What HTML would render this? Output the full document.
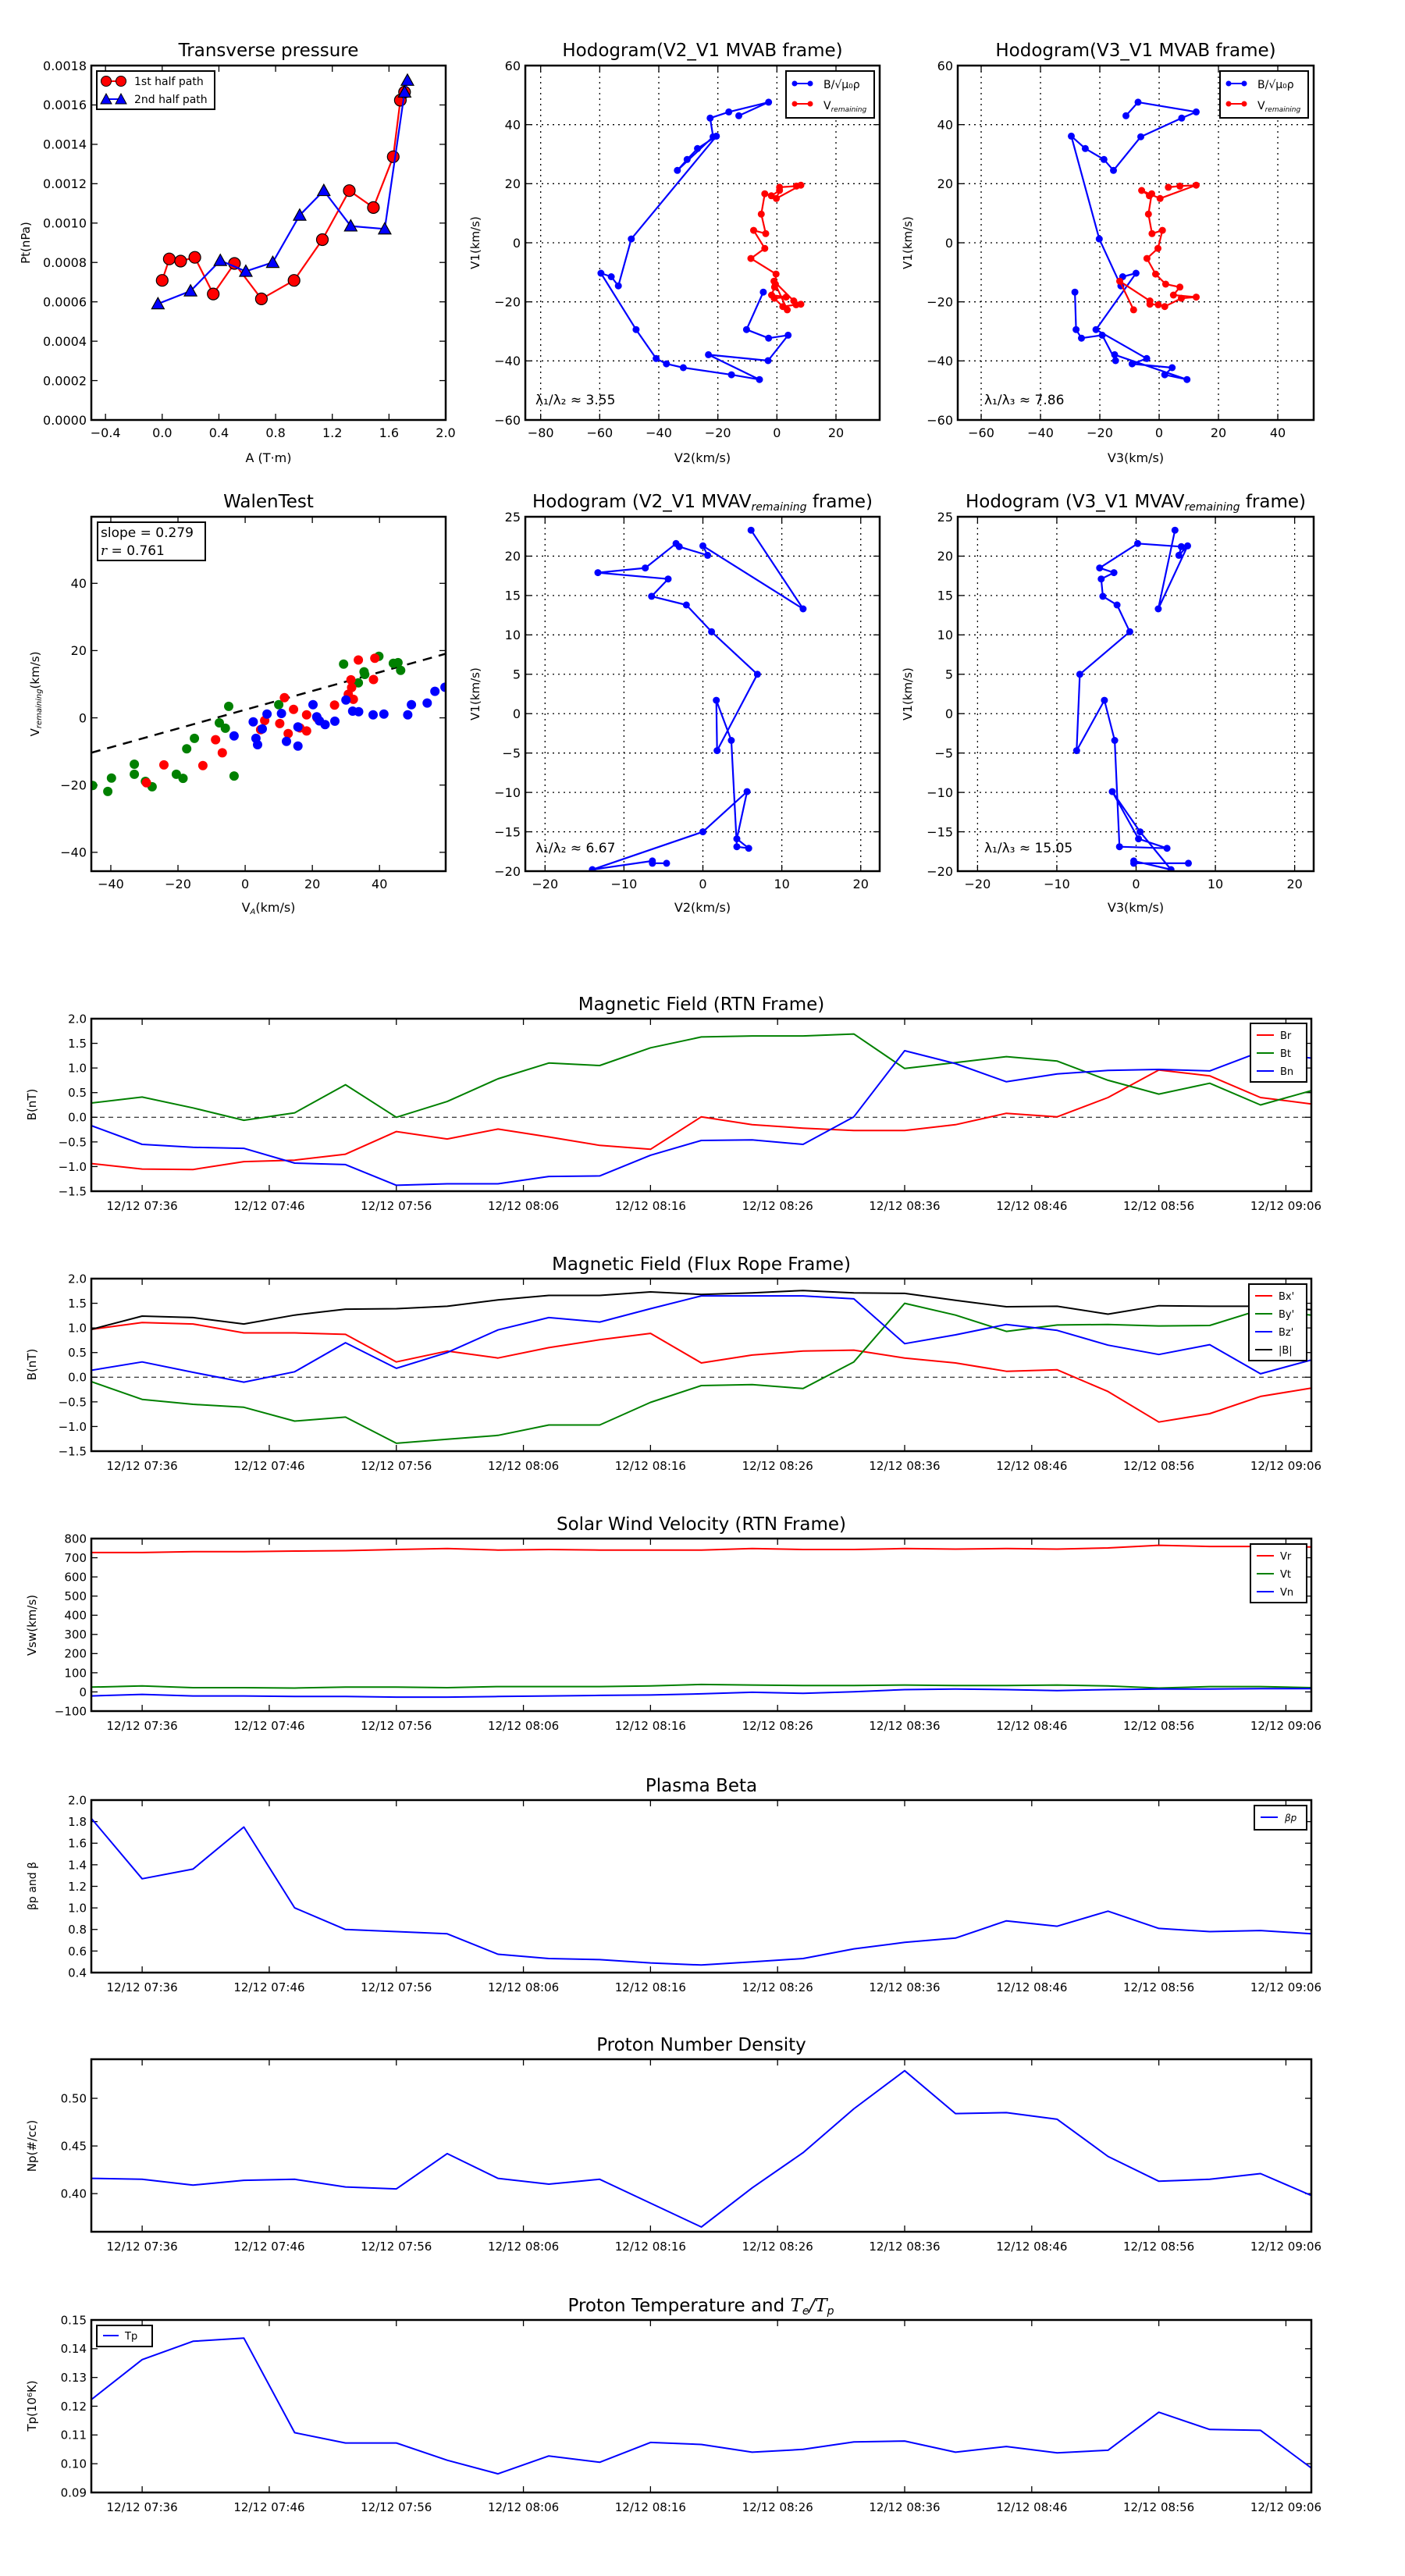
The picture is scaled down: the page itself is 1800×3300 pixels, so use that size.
<!DOCTYPE html>
<html><head><meta charset="utf-8"><title>Flux rope analysis</title>
<style>
html,body{margin:0;padding:0;background:#fff;}
svg{display:block;font-family:"DejaVu Sans","Liberation Sans",sans-serif;}
</style></head>
<body>
<svg id="fig" xmlns="http://www.w3.org/2000/svg" width="1800" height="3300" viewBox="0 0 1800 3300">
<rect x="0" y="0" width="1800" height="3300" fill="#fff"/>
</svg>
<script>
// ---------- DATA ----------
const ptA1 = [0.00,0.05,0.13,0.23,0.36,0.51,0.70,0.93,1.13,1.32,1.49,1.63,1.68,1.71];
const ptP1 = [0.000709,0.000818,0.000807,0.000826,0.000640,0.000795,0.000615,0.000709,0.000916,0.001165,0.001079,0.001337,0.001624,0.001665];
const ptA2 = [-0.03,0.20,0.41,0.59,0.78,0.97,1.14,1.33,1.57,1.71,1.73];
const ptP2 = [0.000590,0.000655,0.000810,0.000755,0.000800,0.001040,0.001165,0.000985,0.000970,0.001665,0.001725];
const hbV1 = [-16.7,-29.4,-32.3,-31.3,-39.9,-37.9,-46.3,-44.7,-42.3,-41.0,-39.2,-29.4,-10.3,-11.5,-14.6,1.3,36.1,31.9,28.2,24.5,35.9,42.2,44.3,47.6,43.0];
const hbV2 = [-4.6,-10.3,-2.8,3.8,-3.0,-23.2,-5.9,-15.4,-31.7,-37.4,-40.9,-47.7,-59.6,-56.1,-53.7,-49.3,-20.5,-26.9,-30.4,-33.7,-21.6,-22.6,-16.3,-2.8,-12.9];
const hbV3 = [-28.4,-28.0,-26.2,-19.2,-14.7,-15.0,9.4,1.9,4.4,-9.1,-4.2,-21.3,-7.8,-12.3,-12.9,-20.2,-29.6,-24.9,-18.6,-15.4,-6.2,7.6,12.5,-7.1,-11.2];
const hrV1 = [-22.7,-13.0,-19.7,-20.8,-21.0,-21.6,-18.8,-18.4,-17.7,-15.0,-14.0,-10.6,-5.3,-1.9,4.2,3.1,9.7,16.6,15.9,17.7,15.0,19.5,19.2,18.8];
const hrV2 = [3.5,-1.0,5.7,8.1,6.5,2.0,-0.9,3.1,-1.8,-0.8,-0.5,-0.3,-8.8,-4.1,-7.9,-3.8,-5.3,-4.1,-1.9,0.9,-0.2,8.1,6.6,0.9];
const hrV3 = [-8.6,-13.3,-3.1,-3.1,-0.3,1.9,7.5,12.5,4.8,7.0,2.2,-1.2,-4.1,-0.4,1.1,-2.4,-3.6,-2.5,-3.3,-5.9,0.3,12.5,7.0,3.1];
const hmV1 = [23.3,13.3,21.3,20.1,21.2,21.6,18.5,17.9,17.1,14.9,13.8,10.4,5.0,-4.7,1.7,-3.4,-16.9,-17.1,-15.9,-9.9,-15.0,-19.8,-18.7,-19.0,-19.0];
const hmV2 = [6.1,12.7,0.0,0.6,-3.0,-3.4,-7.3,-13.3,-4.4,-6.5,-2.1,1.1,6.9,1.8,1.7,3.6,4.3,5.8,4.3,5.6,0.0,-14.0,-6.4,-6.4,-4.6];
const hmV3 = [4.9,2.8,6.5,5.4,5.7,0.2,-4.6,-2.8,-4.4,-4.2,-2.4,-0.8,-7.1,-7.5,-4.0,-2.7,-2.1,3.9,0.3,-3.0,0.5,4.4,-0.3,-0.3,6.6];
const wGx = [-45.4,-40.9,-39.8,-33.0,-33.0,-29.7,-27.7,-20.5,-18.5,-17.4,-15.1,-7.7,-5.9,-4.9,-3.3,10.0,29.3,33.7,35.4,35.6,39.8,44.1,45.5,46.3];
const wGy = [-20.1,-21.9,-17.9,-13.8,-16.8,-18.9,-20.5,-16.8,-18.0,-9.2,-6.1,-1.5,-3.1,3.4,-17.3,3.9,16.0,10.4,13.7,12.9,18.3,16.2,16.4,14.1];
const wRx = [-29.4,-24.2,-12.6,-8.8,-6.8,4.6,5.8,10.3,11.7,12.8,14.4,16.3,18.3,18.3,21.4,26.6,30.7,31.5,31.7,32.2,33.7,38.2,38.6];
const wRy = [-19.3,-14.0,-14.2,-6.5,-10.4,-3.5,-0.8,-1.7,6.0,-4.7,2.5,-3.0,0.9,-3.9,0.0,3.8,7.0,11.3,9.0,5.5,17.2,11.4,17.7];
const wBx = [-3.3,2.4,3.2,3.7,5.1,6.5,10.8,12.3,15.7,15.7,20.2,21.3,22.1,23.8,26.7,30.0,32.0,33.8,38.1,41.3,48.4,49.5,54.2,56.5,59.5];
const wBy = [-5.4,-1.2,-6.1,-8.0,-3.3,1.1,1.3,-7.0,-2.7,-8.4,3.9,0.3,-0.9,-2.0,-1.0,5.3,2.0,1.8,0.9,1.1,0.9,3.9,4.4,7.9,9.1];
const walenSlope = 0.279;
const walenIntercept = 2.4;
const times = ["07:32","07:36","07:40","07:44","07:48","07:52","07:56","08:00","08:04","08:08","08:12","08:16","08:20","08:24","08:28","08:32","08:36","08:40","08:44","08:48","08:52","08:56","09:00","09:04","09:08"];
const timeTicks = ["07:36","07:46","07:56","08:06","08:16","08:26","08:36","08:46","08:56","09:06"];
const Br = [-0.94,-1.05,-1.06,-0.90,-0.87,-0.75,-0.29,-0.44,-0.24,-0.40,-0.57,-0.65,0.01,-0.15,-0.22,-0.27,-0.27,-0.15,0.08,0.01,0.40,0.96,0.84,0.40,0.27];
const Bt = [0.29,0.41,0.19,-0.06,0.09,0.66,0.00,0.32,0.78,1.10,1.05,1.41,1.63,1.65,1.65,1.69,0.99,1.11,1.23,1.14,0.75,0.47,0.69,0.25,0.54];
const Bn = [-0.17,-0.55,-0.61,-0.63,-0.93,-0.96,-1.38,-1.35,-1.35,-1.20,-1.19,-0.77,-0.47,-0.46,-0.55,0.01,1.35,1.09,0.72,0.88,0.95,0.97,0.94,1.33,1.20];
const Bx = [0.97,1.11,1.08,0.90,0.90,0.87,0.31,0.53,0.39,0.60,0.76,0.89,0.29,0.45,0.53,0.55,0.39,0.29,0.12,0.15,-0.29,-0.91,-0.74,-0.39,-0.22];
const By = [-0.09,-0.45,-0.55,-0.61,-0.89,-0.81,-1.34,-1.26,-1.18,-0.97,-0.97,-0.51,-0.17,-0.15,-0.23,0.31,1.50,1.26,0.93,1.06,1.07,1.04,1.05,1.37,1.26];
const Bz = [0.14,0.31,0.10,-0.10,0.11,0.70,0.18,0.50,0.96,1.21,1.12,1.39,1.65,1.65,1.65,1.59,0.68,0.86,1.07,0.95,0.65,0.46,0.66,0.07,0.35];
const Bmag = [0.97,1.24,1.21,1.08,1.26,1.38,1.39,1.44,1.57,1.66,1.66,1.73,1.68,1.71,1.76,1.71,1.70,1.56,1.43,1.44,1.28,1.45,1.44,1.44,1.37];
const Vr = [727,727,732,732,735,737,743,748,740,743,740,740,740,748,743,743,748,745,748,745,751,765,759,759,756];
const Vt = [25,31,22,22,20,25,25,22,28,28,28,31,39,36,33,33,36,33,33,36,31,20,28,28,22];
const Vn = [-21,-13,-21,-21,-24,-24,-27,-27,-24,-21,-18,-16,-10,-2,-7,1,12,15,12,7,12,15,15,17,17];
const betaP = [1.83,1.27,1.36,1.75,1.00,0.80,0.78,0.76,0.57,0.53,0.52,0.49,0.47,0.50,0.53,0.62,0.68,0.72,0.88,0.83,0.97,0.81,0.78,0.79,0.76];
const Np = [0.416,0.415,0.409,0.414,0.415,0.407,0.405,0.442,0.416,0.410,0.415,0.390,0.365,0.406,0.443,0.489,0.529,0.484,0.485,0.478,0.439,0.413,0.415,0.421,0.398];
const Tp = [0.1223,0.1362,0.1426,0.1437,0.1108,0.1072,0.1072,0.1012,0.0965,0.1027,0.1005,0.1074,0.1067,0.1040,0.1050,0.1076,0.1079,0.1040,0.1060,0.1038,0.1047,0.1179,0.1119,0.1116,0.0985];

// ---------- HELPERS ----------
const NS = "http://www.w3.org/2000/svg";
const svg = document.getElementById('fig');
const MINUS = "\u2212";
function mk(parent, tag, attrs, name, inter) {
  const el = document.createElementNS(NS, tag);
  for (const k in attrs) el.setAttribute(k, attrs[k]);
  
  
  parent.appendChild(el);
  return el;
}
function txt(parent, x, y, s, size, anchor, name, extra) {
  const a = {x: x, y: y, 'font-size': size, 'text-anchor': anchor || 'middle', fill: '#000'};
  if (extra) for (const k in extra) a[k] = extra[k];
  const t = mk(parent, 'text', a, name, false);
  t.textContent = s;
  return t;
}
function fmt(v, d) { const s = Math.abs(v).toFixed(d); return (v < -1e-12 ? MINUS : "") + s; }
let clipId = 0;
function axes(c) {
  const g = mk(svg, 'g', {}, c.name, false);
  const sx = v => c.x0 + (v - c.xmin) / (c.xmax - c.xmin) * (c.x1 - c.x0);
  const sy = v => c.y1 - (v - c.ymin) / (c.ymax - c.ymin) * (c.y1 - c.y0);
  const fs = c.fs || 16;
  const grid = mk(g, 'g', {}, 'grid', false);
  const ticks = mk(g, 'g', {}, 'ticks', false);
  c.xticks.forEach((v, i) => {
    const x = sx(v);
    if (c.grid) mk(grid, 'line', {x1: x, x2: x, y1: c.y0, y2: c.y1, stroke: '#000', 'stroke-width': 1.3, 'stroke-dasharray': '2,5'}, 'x-grid-line', false);
    mk(ticks, 'line', {x1: x, x2: x, y1: c.y1, y2: c.y1 - 8, stroke: '#000', 'stroke-width': 1.3}, 'x-tick', false);
    mk(ticks, 'line', {x1: x, x2: x, y1: c.y0, y2: c.y0 + 8, stroke: '#000', 'stroke-width': 1.3}, 'x-tick', false);
    txt(ticks, x, c.y1 + (c.xlabOff || 22), c.xtickLabels[i], fs, 'middle', 'x-tick-label');
  });
  c.yticks.forEach((v, i) => {
    const y = sy(v);
    if (c.grid) mk(grid, 'line', {x1: c.x0, x2: c.x1, y1: y, y2: y, stroke: '#000', 'stroke-width': 1.3, 'stroke-dasharray': '2,5'}, 'y-grid-line', false);
    mk(ticks, 'line', {x1: c.x0, x2: c.x0 + 8, y1: y, y2: y, stroke: '#000', 'stroke-width': 1.3}, 'y-tick', false);
    mk(ticks, 'line', {x1: c.x1, x2: c.x1 - 8, y1: y, y2: y, stroke: '#000', 'stroke-width': 1.3}, 'y-tick', false);
    txt(ticks, c.x0 - 6, y + fs * 0.36, c.ytickLabels[i], fs, 'end', 'y-tick-label');
  });
  clipId++;
  const cp = mk(g, 'clipPath', {id: 'cp' + clipId}, 'clip-region', false);
  mk(cp, 'rect', {x: c.x0, y: c.y0, width: c.x1 - c.x0, height: c.y1 - c.y0}, 'clip-rect', false);
  const plot = mk(g, 'g', {'clip-path': 'url(#cp' + clipId + ')'}, 'plot-area', false);
  mk(g, 'rect', {x: c.x0, y: c.y0, width: c.x1 - c.x0, height: c.y1 - c.y0, fill: 'none', stroke: '#000', 'stroke-width': 2.5}, 'axes-frame', false);
  if (c.title) txt(g, (c.x0 + c.x1) / 2, c.y0 - (c.titleOff || 12), c.title, c.titleFs || 23, 'middle', 'chart-title');
  return {g: g, plot: plot, sx: sx, sy: sy, c: c};
}
function linePath(ax, xs, ys, color, w, name) {
  let d = '';
  for (let i = 0; i < xs.length; i++) d += (i ? 'L' : 'M') + ax.sx(xs[i]).toFixed(1) + ' ' + ax.sy(ys[i]).toFixed(1);
  return mk(ax.plot, 'path', {d: d, fill: 'none', stroke: color, 'stroke-width': w, 'stroke-linejoin': 'round'}, name, false);
}
function dots(ax, xs, ys, color, r, name, stroke) {
  const g = mk(ax.plot, 'g', {}, name + '-markers', false);
  for (let i = 0; i < xs.length; i++) {
    mk(g, 'circle', {cx: ax.sx(xs[i]).toFixed(1), cy: ax.sy(ys[i]).toFixed(1), r: r, fill: color, stroke: stroke || 'none', 'stroke-width': 1.2}, name + '-point', false);
  }
}
function tris(ax, xs, ys, color, s, name) {
  const g = mk(ax.plot, 'g', {}, name + '-markers', false);
  for (let i = 0; i < xs.length; i++) {
    const x = ax.sx(xs[i]), y = ax.sy(ys[i]);
    mk(g, 'polygon', {points: `${x},${y - s} ${x - s},${y + s * 0.8} ${x + s},${y + s * 0.8}`, fill: color, stroke: '#000', 'stroke-width': 1.2}, name + '-point', false);
  }
}
function ylabel(x, y, s, size, name) {
  return txt(svg, x, y, s, size, 'middle', name, {transform: `rotate(-90 ${x} ${y})`});
}
function range(a, b, st) { const r = []; for (let v = a; v <= b + st * 1e-6; v += st) r.push(+v.toFixed(6)); return r; }

const colA = [117, 571], colB = [673, 1127], colC = [1227, 1683];
const rowT = [84, 538], rowM = [662, 1116];

// ---------- Transverse pressure ----------
{
  const xt = range(-0.4, 2.0, 0.4), yt = range(0, 0.0018, 0.0002);
  const ax = axes({name: 'transverse-pressure-chart', x0: colA[0], x1: colA[1], y0: rowT[0], y1: rowT[1], xmin: -0.5, xmax: 2.0, ymin: 0, ymax: 0.0018,
    xticks: xt, xtickLabels: xt.map(v => fmt(v, 1)), yticks: yt, ytickLabels: yt.map(v => fmt(v, 4)), title: 'Transverse pressure'});
  linePath(ax, ptA1, ptP1, '#f00', 2.2, 'first-half-path-line');
  dots(ax, ptA1, ptP1, '#f00', 7.5, 'first-half-path', '#000');
  linePath(ax, ptA2, ptP2, '#00f', 2.2, 'second-half-path-line');
  tris(ax, ptA2, ptP2, '#00f', 8, 'second-half-path');
  const lg = mk(svg, 'g', {}, 'legend', false);
  mk(lg, 'rect', {x: 124, y: 91, width: 151, height: 49, fill: '#fff', stroke: '#000', 'stroke-width': 2}, 'legend-box', false);
  mk(lg, 'line', {x1: 136, x2: 155, y1: 104, y2: 104, stroke: '#f00', 'stroke-width': 2}, 'legend-line-first', false);
  mk(lg, 'circle', {cx: 136, cy: 104, r: 6.5, fill: '#f00', stroke: '#000'}, 'legend-marker-first', false);
  mk(lg, 'circle', {cx: 155, cy: 104, r: 6.5, fill: '#f00', stroke: '#000'}, 'legend-marker-first', false);
  txt(lg, 172, 109, '1st half path', 14, 'start', 'legend-label-first');
  mk(lg, 'line', {x1: 136, x2: 155, y1: 127, y2: 127, stroke: '#00f', 'stroke-width': 2}, 'legend-line-second', false);
  mk(lg, 'polygon', {points: '136,120 129,133 143,133', fill: '#00f', stroke: '#000'}, 'legend-marker-second', false);
  mk(lg, 'polygon', {points: '155,120 148,133 162,133', fill: '#00f', stroke: '#000'}, 'legend-marker-second', false);
  txt(lg, 172, 132, '2nd half path', 14, 'start', 'legend-label-second');
  txt(svg, 344, 592, 'A (T·m)', 16, 'middle', 'x-axis-title');
  ylabel(38, 311, 'Pt(nPa)', 15, 'y-axis-title');
}

function hodoLegend(x, y) {
  const lg = mk(svg, 'g', {}, 'legend', false);
  mk(lg, 'rect', {x: x, y: y, width: 113, height: 60, fill: '#fff', stroke: '#000', 'stroke-width': 2}, 'legend-box', false);
  mk(lg, 'line', {x1: x + 11, x2: x + 31, y1: y + 16, y2: y + 16, stroke: '#00f', 'stroke-width': 2}, 'legend-line-b', false);
  mk(lg, 'circle', {cx: x + 11, cy: y + 16, r: 3.5, fill: '#00f'}, 'legend-marker-b', false);
  mk(lg, 'circle', {cx: x + 31, cy: y + 16, r: 3.5, fill: '#00f'}, 'legend-marker-b', false);
  txt(lg, x + 48, y + 22, 'B/√μ₀ρ', 14, 'start', 'legend-label-b');
  mk(lg, 'line', {x1: x + 11, x2: x + 31, y1: y + 42, y2: y + 42, stroke: '#f00', 'stroke-width': 2}, 'legend-line-v', false);
  mk(lg, 'circle', {cx: x + 11, cy: y + 42, r: 3.5, fill: '#f00'}, 'legend-marker-v', false);
  mk(lg, 'circle', {cx: x + 31, cy: y + 42, r: 3.5, fill: '#f00'}, 'legend-marker-v', false);
  const t = txt(lg, x + 48, y + 49, 'V', 14, 'start', 'legend-label-v');
  const s = mk(t, 'tspan', {'font-size': 9, 'font-style': 'italic', dy: 3}, 'subscript', false);
  s.textContent = 'remaining';
}

// ---------- MVAB hodograms ----------
{
  const xt = range(-80, 20, 20), yt = range(-60, 60, 20);
  const ax = axes({name: 'hodogram-v2-v1-mvab', x0: colB[0], x1: colB[1], y0: rowT[0], y1: rowT[1], xmin: -85.2, xmax: 34.8, ymin: -60, ymax: 60,
    xticks: xt, xtickLabels: xt.map(v => fmt(v, 0)), yticks: yt, ytickLabels: yt.map(v => fmt(v, 0)), grid: true, title: 'Hodogram(V2_V1 MVAB frame)'});
  linePath(ax, hbV2, hbV1, '#00f', 2.2, 'b-series-line');
  dots(ax, hbV2, hbV1, '#00f', 4.5, 'b-series');
  linePath(ax, hrV2, hrV1, '#f00', 2.2, 'v-remaining-line');
  dots(ax, hrV2, hrV1, '#f00', 4.5, 'v-remaining');
  hodoLegend(1007, 91);
  txt(svg, 686, 518, 'λ₁/λ₂ ≈ 3.55', 17, 'start', 'eigenvalue-ratio-label');
  txt(svg, 900, 592, 'V2(km/s)', 16, 'middle', 'x-axis-title');
  ylabel(614, 311, 'V1(km/s)', 15, 'y-axis-title');
}
{
  const xt = range(-60, 40, 20), yt = range(-60, 60, 20);
  const ax = axes({name: 'hodogram-v3-v1-mvab', x0: colC[0], x1: colC[1], y0: rowT[0], y1: rowT[1], xmin: -67.9, xmax: 52.1, ymin: -60, ymax: 60,
    xticks: xt, xtickLabels: xt.map(v => fmt(v, 0)), yticks: yt, ytickLabels: yt.map(v => fmt(v, 0)), grid: true, title: 'Hodogram(V3_V1 MVAB frame)'});
  linePath(ax, hbV3, hbV1, '#00f', 2.2, 'b-series-line');
  dots(ax, hbV3, hbV1, '#00f', 4.5, 'b-series');
  linePath(ax, hrV3, hrV1, '#f00', 2.2, 'v-remaining-line');
  dots(ax, hrV3, hrV1, '#f00', 4.5, 'v-remaining');
  hodoLegend(1563, 91);
  txt(svg, 1261, 518, 'λ₁/λ₃ ≈ 7.86', 17, 'start', 'eigenvalue-ratio-label');
  txt(svg, 1455, 592, 'V3(km/s)', 16, 'middle', 'x-axis-title');
  ylabel(1168, 311, 'V1(km/s)', 15, 'y-axis-title');
}

// ---------- Walen test ----------
{
  const xt = range(-40, 40, 20), yt = range(-40, 40, 20);
  const ax = axes({name: 'walen-test-chart', x0: colA[0], x1: colA[1], y0: rowM[0], y1: rowM[1], xmin: -45.8, xmax: 59.7, ymin: -45.6, ymax: 59.8,
    xticks: xt, xtickLabels: xt.map(v => fmt(v, 0)), yticks: yt, ytickLabels: yt.map(v => fmt(v, 0)), title: 'WalenTest'});
  const fx = [-45.8, 59.7];
  const fy = fx.map(v => walenIntercept + walenSlope * v);
  linePath(ax, fx, fy, '#000', 2.5, 'fit-line').setAttribute('stroke-dasharray', '12,9');
  dots(ax, wGx, wGy, '#008000', 6, 'walen-green');
  dots(ax, wRx, wRy, '#f00', 6, 'walen-red');
  dots(ax, wBx, wBy, '#00f', 6, 'walen-blue');
  const lg = mk(svg, 'g', {}, 'fit-stats-box', false);
  mk(lg, 'rect', {x: 125, y: 669, width: 138, height: 49, fill: '#fff', stroke: '#000', 'stroke-width': 2}, 'stats-box-frame', false);
  txt(lg, 129, 688, 'slope = 0.279', 17, 'start', 'slope-label');
  const r = txt(lg, 129, 711, '', 17, 'start', 'r-label');
  const ri = mk(r, 'tspan', {'font-style': 'italic', 'font-family': 'DejaVu Serif, serif'}, 'r-symbol', false);
  ri.textContent = 'r';
  const rv = mk(r, 'tspan', {}, 'r-value', false);
  rv.textContent = ' = 0.761';
  const xl = txt(svg, 344, 1168, 'V', 16, 'middle', 'x-axis-title');
  const xs = mk(xl, 'tspan', {'font-size': 10, dy: 3, 'font-style': 'italic'}, 'subscript', false);
  xs.textContent = 'A';
  const xs2 = mk(xl, 'tspan', {dy: -3}, 'unit', false);
  xs2.textContent = '(km/s)';
  const yl = ylabel(50, 889, 'V', 15, 'y-axis-title');
  const ys = mk(yl, 'tspan', {'font-size': 10, dy: 3, 'font-style': 'italic'}, 'subscript', false);
  ys.textContent = 'remaining';
  const ys2 = mk(yl, 'tspan', {dy: -3}, 'unit', false);
  ys2.textContent = '(km/s)';
}

function mvavTitle(x, y, s) {
  const t = txt(svg, x, y, s, 23, 'middle', 'chart-title');
  const sub = mk(t, 'tspan', {'font-size': 14, 'font-style': 'italic', dy: 4}, 'subscript', false);
  sub.textContent = 'remaining';
  const rest = mk(t, 'tspan', {dy: -4}, 'title-end', false);
  rest.textContent = ' frame)';
}
// ---------- MVAV hodograms ----------
{
  const xt = range(-20, 20, 10), yt = range(-20, 25, 5);
  const ax = axes({name: 'hodogram-v2-v1-mvav', x0: colB[0], x1: colB[1], y0: rowM[0], y1: rowM[1], xmin: -22.5, xmax: 22.4, ymin: -20, ymax: 25,
    xticks: xt, xtickLabels: xt.map(v => fmt(v, 0)), yticks: yt, ytickLabels: yt.map(v => fmt(v, 0)), grid: true});
  linePath(ax, hmV2, hmV1, '#00f', 2.2, 'b-series-line');
  dots(ax, hmV2, hmV1, '#00f', 4.5, 'b-series');
  mvavTitle(900, 650, 'Hodogram (V2_V1 MVAV');
  txt(svg, 686, 1092, 'λ₁/λ₂ ≈ 6.67', 17, 'start', 'eigenvalue-ratio-label');
  txt(svg, 900, 1168, 'V2(km/s)', 16, 'middle', 'x-axis-title');
  ylabel(614, 889, 'V1(km/s)', 15, 'y-axis-title');
}
{
  const xt = range(-20, 20, 10), yt = range(-20, 25, 5);
  const ax = axes({name: 'hodogram-v3-v1-mvav', x0: colC[0], x1: colC[1], y0: rowM[0], y1: rowM[1], xmin: -22.5, xmax: 22.4, ymin: -20, ymax: 25,
    xticks: xt, xtickLabels: xt.map(v => fmt(v, 0)), yticks: yt, ytickLabels: yt.map(v => fmt(v, 0)), grid: true});
  linePath(ax, hmV3, hmV1, '#00f', 2.2, 'b-series-line');
  dots(ax, hmV3, hmV1, '#00f', 4.5, 'b-series');
  mvavTitle(1455, 650, 'Hodogram (V3_V1 MVAV');
  txt(svg, 1261, 1092, 'λ₁/λ₃ ≈ 15.05', 17, 'start', 'eigenvalue-ratio-label');
  txt(svg, 1455, 1168, 'V3(km/s)', 16, 'middle', 'x-axis-title');
  ylabel(1168, 889, 'V1(km/s)', 15, 'y-axis-title');
}

// ---------- TIME SERIES ----------
function tmin(s) { const p = s.split(':'); return (+p[0]) * 60 + (+p[1]) - (7 * 60 + 32); }
const tX = times.map(tmin);
const tickX = timeTicks.map(tmin);
function tsAxes(name, y0, ymin, ymax, yt, ylabs, title) {
  return axes({name: name, x0: 117, x1: 1680, y0: y0, y1: y0 + 221, xmin: 0, xmax: 96, ymin: ymin, ymax: ymax,
    xticks: tickX, xtickLabels: timeTicks.map(s => '12/12 ' + s), yticks: yt, ytickLabels: ylabs, fs: 15, xlabOff: 24, title: title, titleFs: 23, titleOff: 11});
}
function tsLegend(x, y, w, entries) {
  const lg = mk(svg, 'g', {}, 'legend', false);
  const h = entries.length * 23 + 6;
  mk(lg, 'rect', {x: x, y: y, width: w, height: h, fill: '#fff', stroke: '#000', 'stroke-width': 2}, 'legend-box', false);
  entries.forEach((e, i) => {
    const yy = y + 15 + i * 23;
    mk(lg, 'line', {x1: x + 8, x2: x + 30, y1: yy, y2: yy, stroke: e[1], 'stroke-width': 2}, 'legend-line', false);
    txt(lg, x + 38, yy + 5, e[0], 13, 'start', 'legend-label');
  });
}
function zeroLine(ax) {
  mk(ax.plot, 'line', {x1: ax.c.x0, x2: ax.c.x1, y1: ax.sy(0), y2: ax.sy(0), stroke: '#000', 'stroke-width': 1, 'stroke-dasharray': '6,5'}, 'zero-line', false);
}
const yB = range(-1.5, 2.0, 0.5);
{
  const ax = tsAxes('magnetic-field-rtn-chart', 1305, -1.5, 2.0, yB, yB.map(v => fmt(v, 1)), 'Magnetic Field (RTN Frame)');
  zeroLine(ax);
  linePath(ax, tX, Br, '#f00', 2, 'br-line');
  linePath(ax, tX, Bt, '#008000', 2, 'bt-line');
  linePath(ax, tX, Bn, '#00f', 2, 'bn-line');
  tsLegend(1602, 1311, 72, [['Br', '#f00'], ['Bt', '#008000'], ['Bn', '#00f']]);
  ylabel(46, 1415, 'B(nT)', 15, 'y-axis-title');
}
{
  const ax = tsAxes('magnetic-field-flux-rope-chart', 1638, -1.5, 2.0, yB, yB.map(v => fmt(v, 1)), 'Magnetic Field (Flux Rope Frame)');
  zeroLine(ax);
  linePath(ax, tX, Bx, '#f00', 2, 'bx-line');
  linePath(ax, tX, By, '#008000', 2, 'by-line');
  linePath(ax, tX, Bz, '#00f', 2, 'bz-line');
  linePath(ax, tX, Bmag, '#000', 2, 'bmag-line');
  tsLegend(1600, 1645, 74, [["Bx'", '#f00'], ["By'", '#008000'], ["Bz'", '#00f'], ['|B|', '#000']]);
  ylabel(46, 1748, 'B(nT)', 15, 'y-axis-title');
}
{
  const yt = range(-100, 800, 100);
  const ax = tsAxes('solar-wind-velocity-chart', 1971, -100, 800, yt, yt.map(v => fmt(v, 0)), 'Solar Wind Velocity (RTN Frame)');
  linePath(ax, tX, Vr, '#f00', 2, 'vr-line');
  linePath(ax, tX, Vt, '#008000', 2, 'vt-line');
  linePath(ax, tX, Vn, '#00f', 2, 'vn-line');
  tsLegend(1602, 1978, 72, [['Vr', '#f00'], ['Vt', '#008000'], ['Vn', '#00f']]);
  ylabel(46, 2082, 'Vsw(km/s)', 15, 'y-axis-title');
}
{
  const yt = range(0.4, 2.0, 0.2);
  const ax = tsAxes('plasma-beta-chart', 2306, 0.4, 2.0, yt, yt.map(v => fmt(v, 1)), 'Plasma Beta');
  linePath(ax, tX, betaP, '#00f', 2, 'beta-p-line');
  const lg = mk(svg, 'g', {}, 'legend', false);
  mk(lg, 'rect', {x: 1607, y: 2313, width: 67, height: 31, fill: '#fff', stroke: '#000', 'stroke-width': 2}, 'legend-box', false);
  mk(lg, 'line', {x1: 1615, x2: 1637, y1: 2328, y2: 2328, stroke: '#00f', 'stroke-width': 2}, 'legend-line', false);
  txt(lg, 1646, 2333, 'βp', 12, 'start', 'legend-label', {'font-style': 'italic'});
  ylabel(46, 2416, 'βp and β', 14, 'y-axis-title');
}
{
  const yt = [0.40, 0.45, 0.50];
  const ax = tsAxes('proton-density-chart', 2638, 0.360, 0.541, yt, yt.map(v => fmt(v, 2)), 'Proton Number Density');
  linePath(ax, tX, Np, '#00f', 2, 'np-line');
  ylabel(46, 2749, 'Np(#/cc)', 15, 'y-axis-title');
}
{
  const yt = range(0.09, 0.15, 0.01);
  const ax = tsAxes('proton-temperature-chart', 2972, 0.09, 0.15, yt, yt.map(v => fmt(v, 2)), '');
  linePath(ax, tX, Tp, '#00f', 2, 'tp-line');
  const t = txt(svg, 898, 2961, 'Proton Temperature and ', 23, 'middle', 'chart-title');
  const a = mk(t, 'tspan', {'font-style': 'italic', 'font-family': 'DejaVu Serif, serif'}, 'title-math', false);
  a.textContent = 'T';
  const b = mk(t, 'tspan', {'font-size': 14, dy: 4, 'font-style': 'italic'}, 'subscript', false);
  b.textContent = 'e';
  const c2 = mk(t, 'tspan', {dy: -4, 'font-style': 'italic', 'font-family': 'DejaVu Serif, serif'}, 'title-math', false);
  c2.textContent = '/T';
  const d = mk(t, 'tspan', {'font-size': 14, dy: 4, 'font-style': 'italic'}, 'subscript', false);
  d.textContent = 'p';
  const lg = mk(svg, 'g', {}, 'legend', false);
  mk(lg, 'rect', {x: 124, y: 2979, width: 71, height: 27, fill: '#fff', stroke: '#000', 'stroke-width': 2}, 'legend-box', false);
  mk(lg, 'line', {x1: 132, x2: 152, y1: 2992, y2: 2992, stroke: '#00f', 'stroke-width': 2}, 'legend-line', false);
  txt(lg, 160, 2997, 'Tp', 13, 'start', 'legend-label');
  ylabel(46, 3082, 'Tp(10⁶K)', 15, 'y-axis-title');
}
</script>
</body></html>
